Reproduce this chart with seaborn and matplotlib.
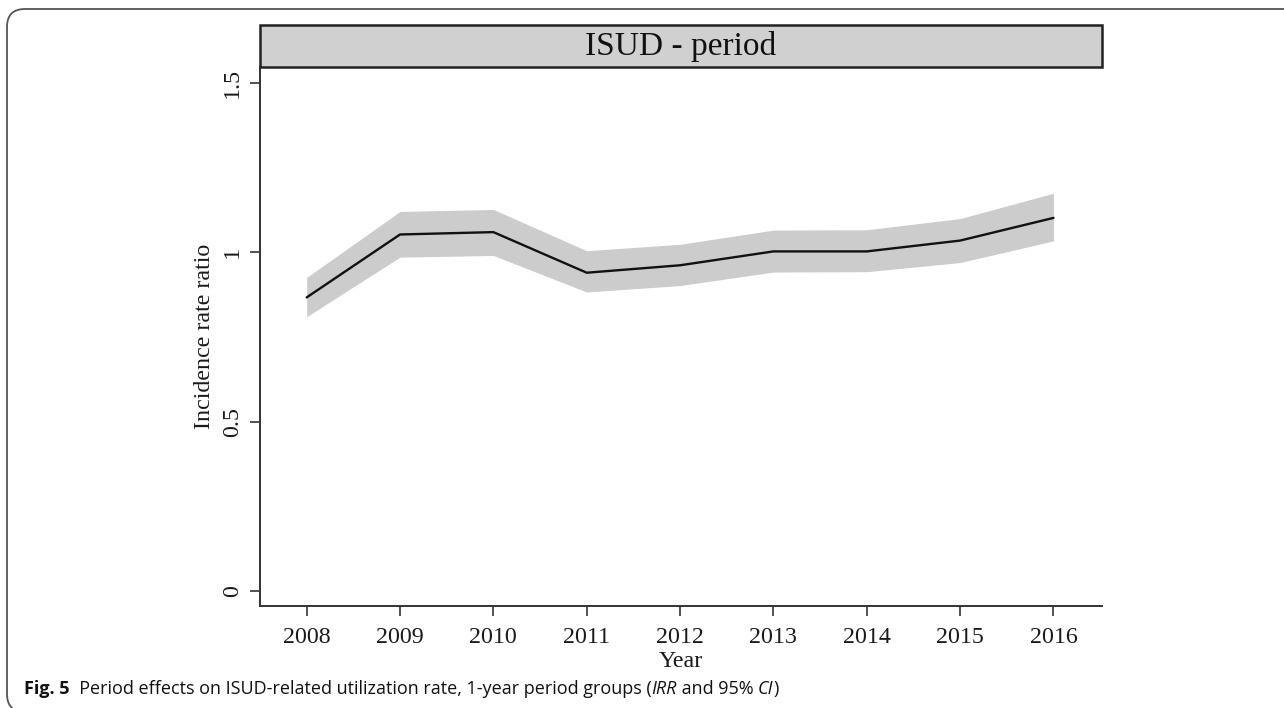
import matplotlib
matplotlib.use("Agg")
import matplotlib.pyplot as plt
import seaborn as sns
import pandas as pd
from matplotlib.patches import Rectangle, FancyBboxPatch

# ---- data ----
years = [2008, 2009, 2010, 2011, 2012, 2013, 2014, 2015, 2016]
irr = [0.867, 1.053, 1.060, 0.940, 0.962, 1.003, 1.003, 1.035, 1.102]
ci_low = [0.810, 0.986, 0.991, 0.883, 0.902, 0.942, 0.943, 0.970, 1.034]
ci_high = [0.926, 1.121, 1.127, 1.005, 1.024, 1.066, 1.067, 1.100, 1.175]
y_ticks = [0, 0.5, 1, 1.5]
y_tick_labels = ["0", "0.5", "1", "1.5"]
title = "ISUD - period"
x_label = "Year"
y_label = "Incidence rate ratio"

df = pd.DataFrame({"year": years, "irr": irr, "lo": ci_low, "hi": ci_high})

sns.set_theme(style="white")
plt.rcParams["font.family"] = ["Liberation Serif", "DejaVu Serif"]

W, H = 1284, 708
fig = plt.figure(figsize=(W / 100, H / 100), dpi=100)
fig.patch.set_facecolor("white")

# outer rounded frame
frame = FancyBboxPatch((7 / W, -4 / H), (W + 20) / W, (H - 9 + 4) / H,
                       boxstyle="round,pad=0,rounding_size=0.014",
                       transform=fig.transFigure, facecolor="none",
                       edgecolor="#555555", linewidth=1.3, clip_on=False,
                       mutation_aspect=W / H)
fig.patches.append(frame)

ax_l, ax_r, ax_t, ax_b = 260, 1102, 67, 606
ax = fig.add_axes([ax_l / W, 1 - ax_b / H, (ax_r - ax_l) / W, (ax_b - ax_t) / H])

ax.fill_between(df["year"], df["lo"], df["hi"], color="#cccccc", linewidth=0, zorder=1)
sns.lineplot(data=df, x="year", y="irr", ax=ax, color="#111111", linewidth=1.7, zorder=3)

ax.set_xlim(2007.5, 2016.52)
ax.set_ylim(-0.045, 1.548)
ax.set_xticks(years)
ax.set_xticklabels([str(y) for y in years])
ax.set_yticks(y_ticks)
ax.set_yticklabels(y_tick_labels, rotation=90, va="center")

for s in ["top", "right"]:
    ax.spines[s].set_visible(False)
for s in ["left", "bottom"]:
    ax.spines[s].set_color("#333333")
    ax.spines[s].set_linewidth(1.4)

ax.tick_params(axis="both", which="major", direction="out", length=7.2, width=1.2,
               color="#333333", labelsize=17.3, labelcolor="#1a1a1a",
               left=True, bottom=True)
ax.tick_params(axis="x", pad=8)
ax.tick_params(axis="y", pad=5)

ax.set_xlabel(x_label, fontsize=17.3, color="#1a1a1a", labelpad=2)
ax.set_ylabel(y_label, fontsize=17.3, color="#1a1a1a")
ax.yaxis.set_label_coords(-0.0535, 0.5)

# title strip
strip_h = (ax_t - 25) / (ax_b - ax_t)
ax.add_patch(Rectangle((0, 1), 1, strip_h, transform=ax.transAxes,
                       facecolor="#d0d0d0", edgecolor="#222222",
                       linewidth=1.8, clip_on=False, zorder=5))
ax.text(0.5, 1 + strip_h / 2, title, transform=ax.transAxes, ha="center",
        va="center", fontsize=24, color="#111111", zorder=6)

# caption
cap_fs = 13.0
cap_font = ["Open Sans", "DejaVu Sans"]
t1 = fig.text(24 / W, 1 - 698 / H, "Fig. 5", fontsize=cap_fs, fontweight="bold",
              family=cap_font, color="#111111", va="bottom")
parts = [("  Period effects on ISUD-related utilization rate, 1-year period groups (", "normal"),
         ("IRR", "italic"), (" and 95% ", "normal"), ("CI", "italic"), (")", "normal")]
prev = t1
for txt, style in parts:
    prev = ax.annotate(txt, xy=(1, 0), xycoords=prev, ha="left", va="bottom",
                       fontsize=cap_fs, fontstyle=style, family=cap_font,
                       color="#111111", annotation_clip=False)

fig.savefig("out.png", dpi=100, facecolor="white")
